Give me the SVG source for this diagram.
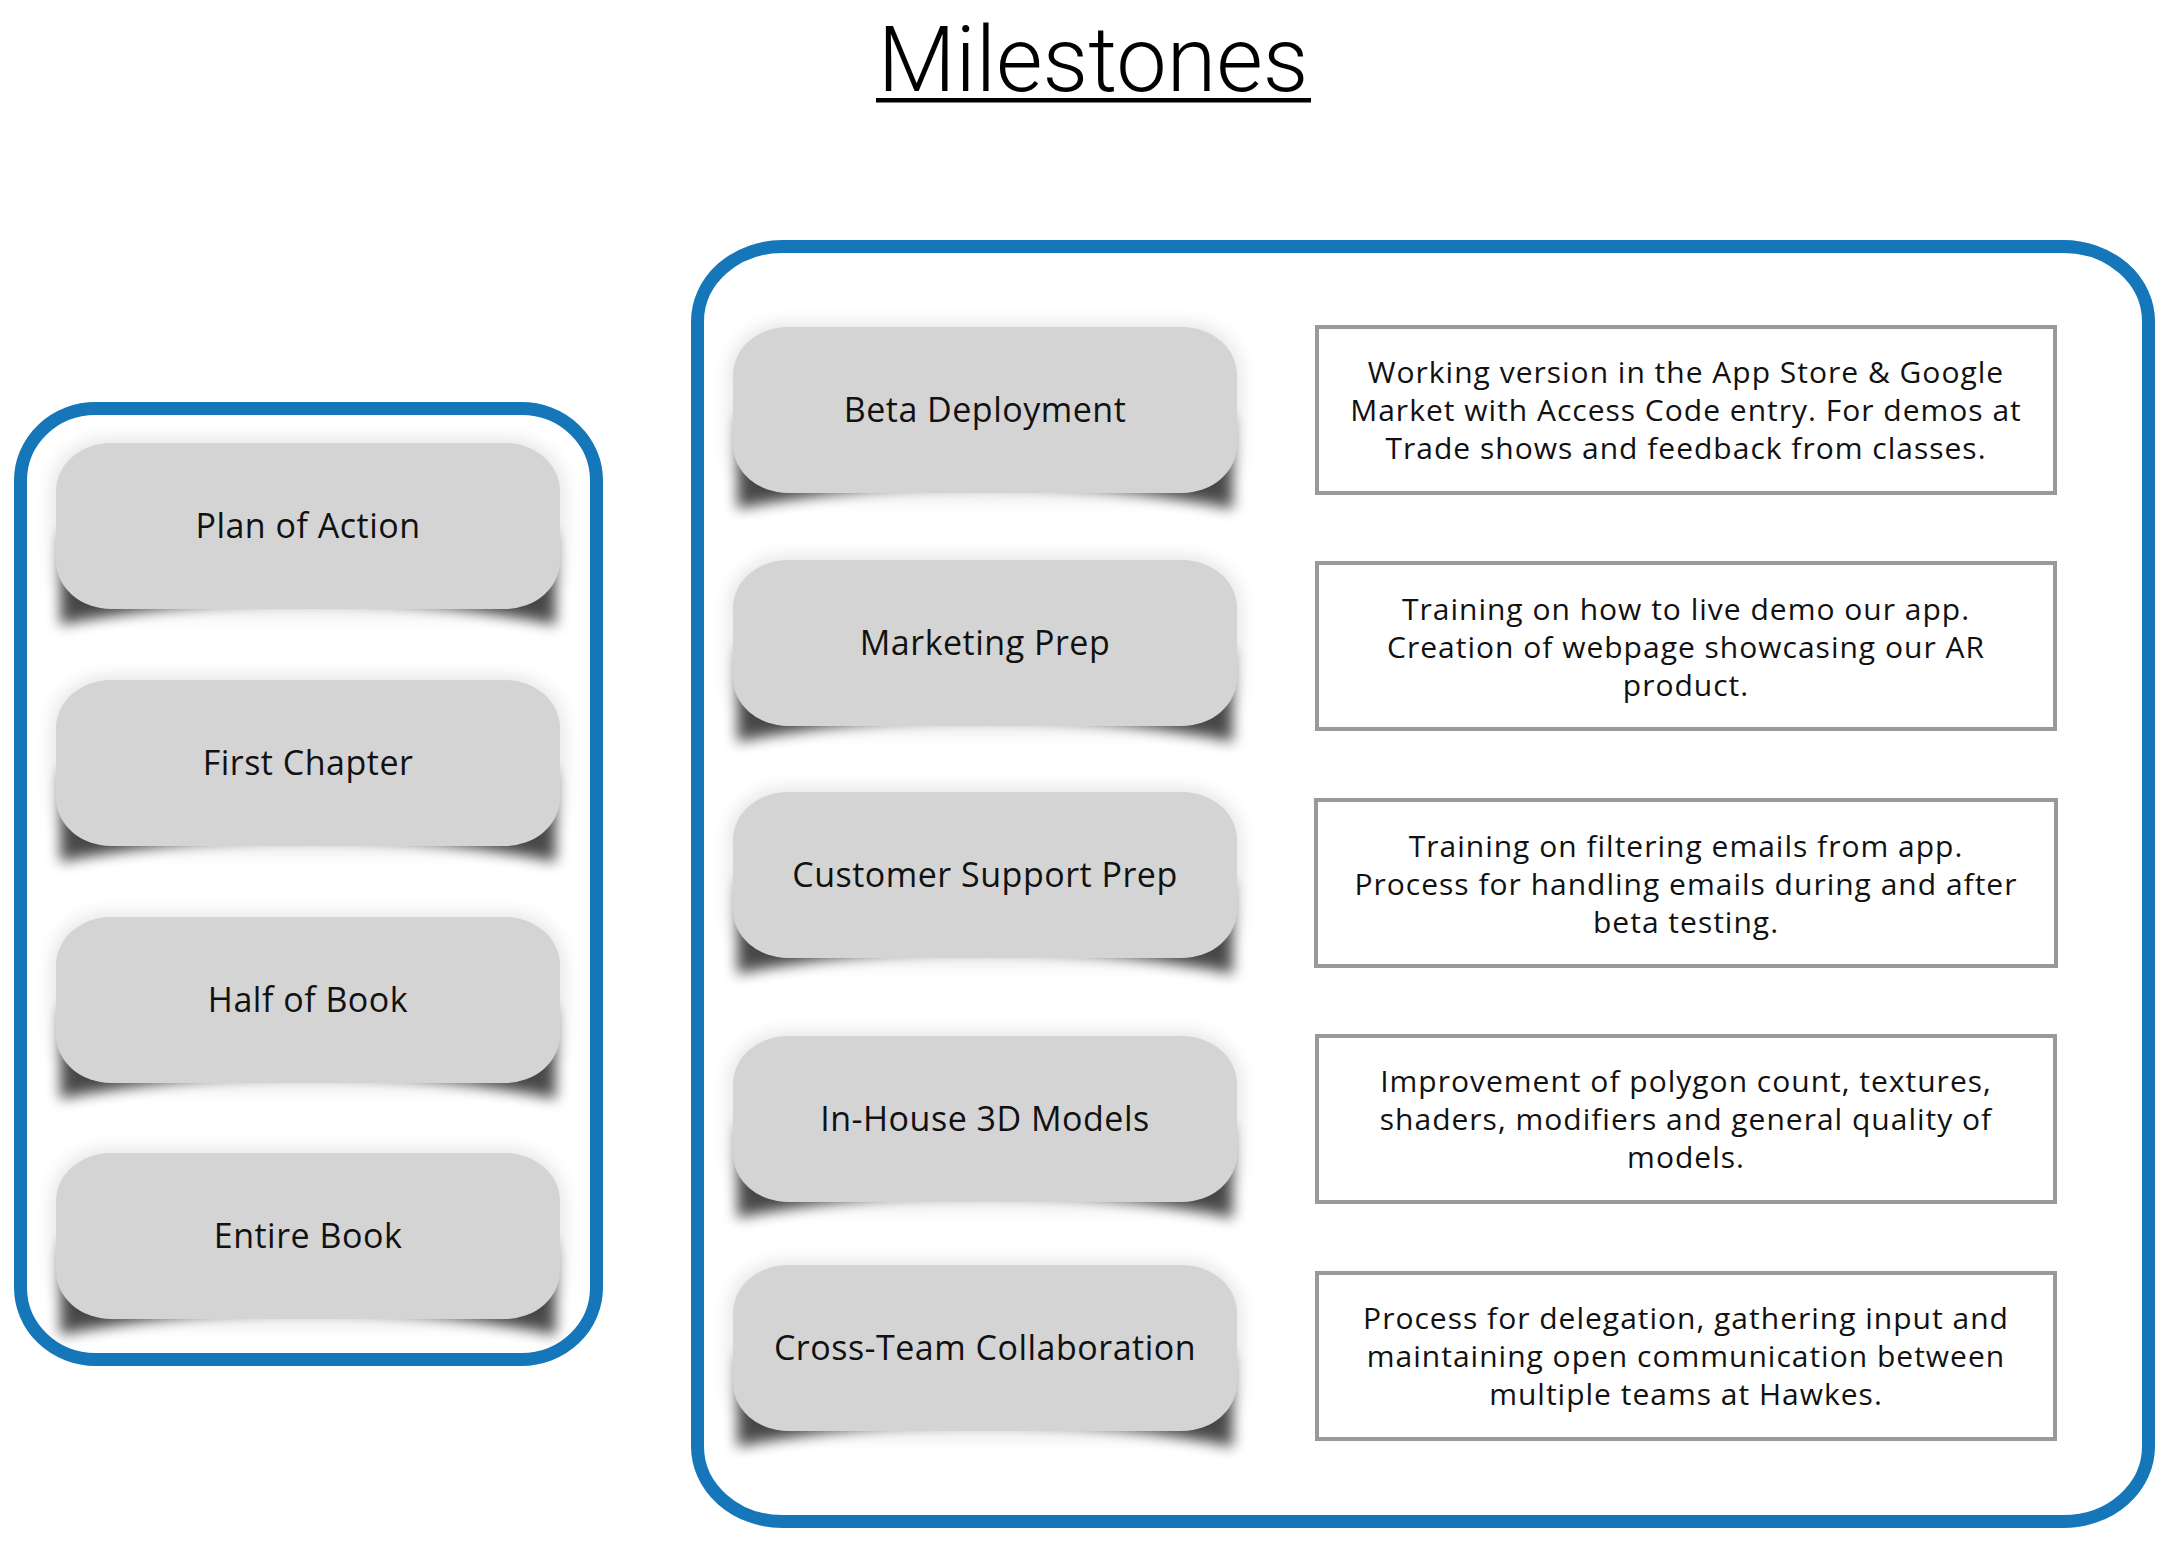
<svg xmlns="http://www.w3.org/2000/svg" xmlns:xlink="http://www.w3.org/1999/xlink" width="2176" height="1542" viewBox="0 0 2176 1542">
<style>
.container{fill:none;stroke:#1577b9;stroke-width:13}
.desc{fill:#ffffff;stroke:#999999;stroke-width:4}
.label{font-family:"Open Sans","Liberation Sans",sans-serif;font-size:34px;letter-spacing:0.5px;fill:#111111;text-anchor:middle}
.dtext{font-family:"Open Sans","Liberation Sans",sans-serif;font-size:30px;letter-spacing:1px;fill:#111111;text-anchor:middle}
.title{font-family:Roboto,"Open Sans","Liberation Sans",sans-serif;font-weight:300;font-size:90px;fill:#000000;text-anchor:middle}
</style>
<defs>
<filter id="curl" x="-10%" y="-40%" width="120%" height="180%">
<feGaussianBlur stdDeviation="7"/>
</filter>
<filter id="glow" x="-10%" y="-20%" width="120%" height="140%">
<feGaussianBlur stdDeviation="9"/>
</filter>
<g id="nodeShape">
<rect x="-4" y="-4" width="512" height="175" rx="58" ry="50" fill="#000000" opacity="0.1" filter="url(#glow)"/>
<path d="M 6,90 L 498,90 L 500,182 Q 252,130 4,182 Z" fill="#000000" opacity="0.7" filter="url(#curl)"/>
<rect x="0" y="0" width="504" height="166" rx="55" ry="48" fill="#d4d4d4"/>
</g>
</defs>
<rect width="2176" height="1542" fill="#ffffff"/>
<g id="title">
<text class="title" x="1093" y="91">Milestones</text>
<rect x="876" y="98" width="435" height="4.5" fill="#000000"/>
</g>
<g id="connectors"></g>
<g id="left-group">
<rect class="container" x="20.5" y="408.5" width="576" height="951" rx="75" ry="72"/>
</g>
<g id="right-group">
<rect class="container" x="697.5" y="246.5" width="1451" height="1275" rx="85" ry="75"/>
</g>
<g id="node-plan-of-action">
<use xlink:href="#nodeShape" x="56" y="443"/>
<text class="label" x="308" y="538">Plan of Action</text>
</g>
<g id="node-first-chapter">
<use xlink:href="#nodeShape" x="56" y="680"/>
<text class="label" x="308" y="775">First Chapter</text>
</g>
<g id="node-half-of-book">
<use xlink:href="#nodeShape" x="56" y="917"/>
<text class="label" x="308" y="1012">Half of Book</text>
</g>
<g id="node-entire-book">
<use xlink:href="#nodeShape" x="56" y="1153"/>
<text class="label" x="308" y="1248">Entire Book</text>
</g>
<g id="node-beta-deployment">
<use xlink:href="#nodeShape" x="733" y="327"/>
<text class="label" x="985" y="422">Beta Deployment</text>
</g>
<g id="node-marketing-prep">
<use xlink:href="#nodeShape" x="733" y="560"/>
<text class="label" x="985" y="655">Marketing Prep</text>
</g>
<g id="node-customer-support-prep">
<use xlink:href="#nodeShape" x="733" y="792"/>
<text class="label" x="985" y="887">Customer Support Prep</text>
</g>
<g id="node-in-house-3d-models">
<use xlink:href="#nodeShape" x="733" y="1036"/>
<text class="label" x="985" y="1131">In-House 3D Models</text>
</g>
<g id="node-cross-team-collaboration">
<use xlink:href="#nodeShape" x="733" y="1265"/>
<text class="label" x="985" y="1360">Cross-Team Collaboration</text>
</g>
<g id="desc-beta">
<rect class="desc" x="1317" y="327" width="738" height="166"/>
<text class="dtext" x="1686" y="383">Working version in the App Store &amp; Google</text>
<text class="dtext" x="1686" y="421">Market with Access Code entry. For demos at</text>
<text class="dtext" x="1686" y="459">Trade shows and feedback from classes.</text>
</g>
<g id="desc-marketing">
<rect class="desc" x="1317" y="563" width="738" height="166"/>
<text class="dtext" x="1686" y="620">Training on how to live demo our app.</text>
<text class="dtext" x="1686" y="658">Creation of webpage showcasing our AR</text>
<text class="dtext" x="1686" y="696">product.</text>
</g>
<g id="desc-customer">
<rect class="desc" x="1316" y="800" width="740" height="166"/>
<text class="dtext" x="1686" y="857">Training on filtering emails from app.</text>
<text class="dtext" x="1686" y="895">Process for handling emails during and after</text>
<text class="dtext" x="1686" y="933">beta testing.</text>
</g>
<g id="desc-inhouse">
<rect class="desc" x="1317" y="1036" width="738" height="166"/>
<text class="dtext" x="1686" y="1092">Improvement of polygon count, textures,</text>
<text class="dtext" x="1686" y="1130">shaders, modifiers and general quality of</text>
<text class="dtext" x="1686" y="1168">models.</text>
</g>
<g id="desc-cross">
<rect class="desc" x="1317" y="1273" width="738" height="166"/>
<text class="dtext" x="1686" y="1329">Process for delegation, gathering input and</text>
<text class="dtext" x="1686" y="1367">maintaining open communication between</text>
<text class="dtext" x="1686" y="1405">multiple teams at Hawkes.</text>
</g>
</svg>
